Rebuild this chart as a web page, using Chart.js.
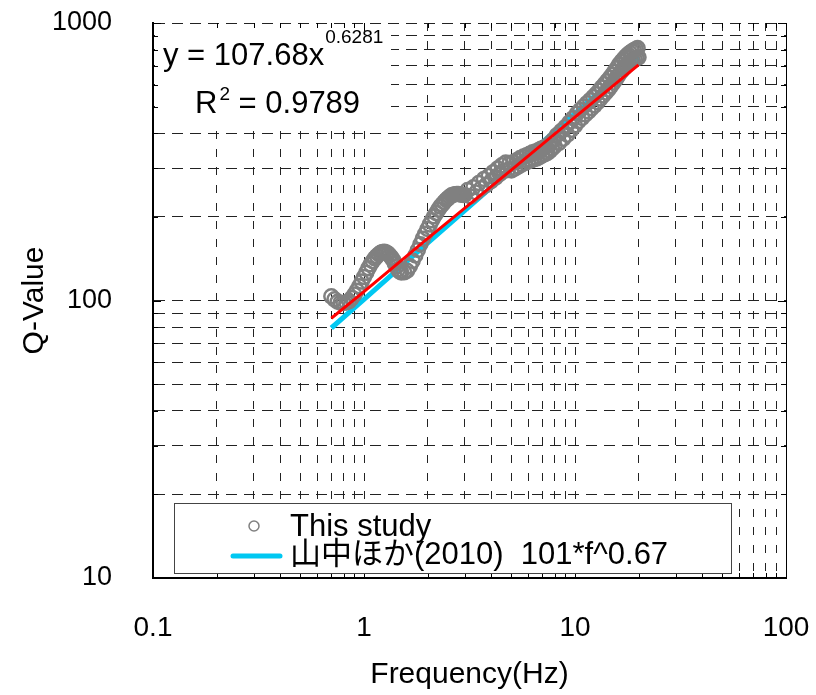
<!DOCTYPE html>
<html><head><meta charset="utf-8">
<script src="https://cdn.jsdelivr.net/npm/chart.js@4"></script>
<style>html,body{margin:0;padding:0;background:#fff}#wrap{width:816px;height:695px;position:relative}</style>
</head><body><div id="wrap"><canvas id="c" width="816" height="695"></canvas></div>
<script>
// ---- data ----
const studyFreq = [
  0.700,0.725,0.750,0.775,0.800,0.825,0.850,0.875,0.900,0.925,0.950,0.975,1.000,1.025,1.050,1.075,1.100,1.125,1.150,1.175,1.200,1.225,1.250,1.275,1.300,1.325,1.350,1.375,1.400,1.425,1.450,1.475,1.500,
  1.55,1.60,1.65,1.70,1.75,1.80,1.85,1.90,1.95,2.00,2.05,2.10,2.15,2.20,2.25,2.30,2.35,2.40,2.45,2.50,2.55,2.60,2.65,2.70,2.75,2.80,2.85,2.90,2.95,3.00,
  3.1,3.2,3.3,3.4,3.5,3.6,3.7,3.8,3.9,4.0,4.1,4.2,4.3,4.4,4.5,4.6,4.7,4.8,4.9,5.0,5.1,5.2,5.3,5.4,5.5,5.6,5.7,5.8,5.9,6.0,6.1,6.2,6.3,6.4,6.5,6.6,6.7,6.8,6.9,7.0,7.1,7.2,7.3,7.4,7.5,7.6,7.7,7.8,7.9,8.0,
  8.2,8.4,8.6,8.8,9.0,9.2,9.4,9.6,9.8,10.0,10.2,10.4,10.6,10.8,11.0,11.2,11.4,11.6,11.8,12.0,12.2,12.4,12.6,12.8,13.0,13.2,13.4,13.6,13.8,14.0,14.2,14.4,14.6,14.8,15.0,15.2,15.4,15.6,15.8,16.0,16.2,16.4,16.6,16.8,17.0,17.2,17.4,17.6,17.8,18.0,18.2,18.4,18.6,18.8,19.0,19.2,19.4,19.6,19.8,20.0];
const studyQ = [
  103.5,101.0,99.0,98.2,98.0,98.4,99.5,102.0,105.0,108.5,112.5,117.0,121.5,126.0,130.8,135.0,138.5,141.8,144.5,146.8,148.5,149.6,149.8,149.0,147.5,145.3,142.8,139.8,136.0,132.5,129.5,127.3,126.2,
  126.3,128.0,133.0,139.0,145.3,152.0,159.5,167.0,174.0,181.0,188.0,194.5,201.0,206.5,212.5,218.0,222.0,226.5,230.3,233.5,236.5,239.3,240.5,241.5,242.0,242.0,241.3,240.5,240.0,240.0,
  250,237,256,245,265,254,274,261,281,269,290,277,299,286,307,293,314,295,313,294,315,299,320,304,326,309,330,313,334,317,338,320,342,323,344,325,348,329,352,333,355,337,359,340,364,346,371,353,379,360,
  394,370,408,383,422,396,438,412,454,427,472,443,486,455,500,468,514,480,527,493,541,505,554,518,570,534,586,548,601,562,617,576,633,592,651,610,669,626,688,645,709,663,726,678,742,691,757,705,770,716,780,724,790,733,798,740,805,747,812,752];
const fitFreq = [0.70, 1, 2, 5, 10, 20];
const fitQ    = [86.3, 107.7, 167.0, 295.5, 458.3, 706.0];
const refFreq = [0.70, 1, 2, 5, 10, 20];
const refQ    = [79.6, 101.0, 160.9, 296.3, 472.0, 751.6];
const xTickValues = [0.1,0.2,0.3,0.4,0.5,0.6,0.7,0.8,0.9,1,2,3,4,5,6,7,8,9,10,20,30,40,50,60,70,80,90,100];
const yTickValues = [10,20,30,40,50,60,70,80,90,100,200,300,400,500,600,700,800,900,1000];
const xMajor = [0.1, 1, 10, 100];
const xLabels = ['0.1', '1', '10', '100'];
const yMajor = [10, 100, 1000];
const yLabels = ['10', '100', '1000'];
const legendLabels = ['This study', '山中ほか(2010)  101*f^0.67'];
const fitText = ['y = 107.68x', '0.6281', 'R', '2', ' = 0.9789'];

const FONT = "'Liberation Sans', Arial, 'Noto Sans CJK JP', sans-serif";

const overlay = {
  id: 'overlay',
  beforeDatasetsDraw(chart) {
    const ctx = chart.ctx, a = chart.chartArea;
    ctx.save();
    ctx.fillStyle = '#fff';
    ctx.fillRect(a.left + 2, a.top + 1, 236, 102);
    ctx.restore();
  },
  afterDraw(chart) {
    const ctx = chart.ctx, a = chart.chartArea;
    const xs = chart.scales.x, ys = chart.scales.y;
    ctx.save();
    ctx.strokeStyle = '#000'; ctx.lineWidth = 1;
    ctx.beginPath();
    yTickValues.forEach(v => {
      const p = Math.round(ys.getPixelForValue(v)) + 0.5;
      const L = yMajor.includes(v) ? 8 : 5;
      ctx.moveTo(a.left, p); ctx.lineTo(a.left + L, p);
      ctx.moveTo(a.right, p); ctx.lineTo(a.right - L, p);
    });
    xTickValues.forEach(v => {
      const p = Math.round(xs.getPixelForValue(v)) + 0.5;
      const L = xMajor.includes(v) ? 8 : 5;
      ctx.moveTo(p, a.bottom); ctx.lineTo(p, a.bottom - L);
      ctx.moveTo(p, a.top); ctx.lineTo(p, a.top + L);
    });
    ctx.stroke();
    ctx.fillStyle = '#000';
    ctx.textBaseline = 'alphabetic'; ctx.textAlign = 'left';
    ctx.font = '31px ' + FONT;
    let x0 = a.left + 10;
    ctx.fillText(fitText[0], x0, a.top + 42);
    let w = ctx.measureText(fitText[0]).width;
    ctx.font = '19px ' + FONT;
    ctx.fillText(fitText[1], x0 + w + 1, a.top + 20);
    ctx.font = '31px ' + FONT;
    let x1 = a.left + 42;
    ctx.fillText(fitText[2], x1, a.top + 90);
    w = ctx.measureText(fitText[2]).width;
    ctx.font = '19px ' + FONT;
    ctx.fillText(fitText[3], x1 + w + 2, a.top + 77);
    const w2 = ctx.measureText(fitText[3]).width;
    ctx.font = '31px ' + FONT;
    ctx.fillText(fitText[4], x1 + w + w2 + 2, a.top + 90);
    const bx = a.left + 21, bw = 557, bh = 70, by = a.bottom - 5 - bh;
    ctx.fillStyle = '#fff';
    ctx.fillRect(bx, by, bw, bh);
    ctx.strokeStyle = '#444'; ctx.lineWidth = 1;
    ctx.strokeRect(bx + 0.5, by + 0.5, bw, bh);
    ctx.strokeStyle = '#808080'; ctx.lineWidth = 1.5;
    ctx.beginPath(); ctx.arc(bx + 80, by + 23, 5, 0, Math.PI * 2); ctx.stroke();
    ctx.strokeStyle = '#00c8f2'; ctx.lineWidth = 5; ctx.lineCap = 'round';
    ctx.beginPath(); ctx.moveTo(bx + 59, by + 53); ctx.lineTo(bx + 106, by + 53); ctx.stroke();
    ctx.fillStyle = '#000'; ctx.textBaseline = 'middle';
    ctx.font = '31px ' + FONT;
    ctx.fillText(legendLabels[0], bx + 116, by + 24);
    ctx.fillText(legendLabels[1], bx + 116, by + 52);
    ctx.restore();
  }
};

function noPad(s) { s.paddingLeft = 0; s.paddingRight = 0; s.paddingTop = 0; s.paddingBottom = 0; }

new Chart(document.getElementById('c'), {
  type: 'scatter',
  data: {
    datasets: [
      { label: 'fit', data: fitFreq.map((f, i) => ({ x: f, y: fitQ[i] })), showLine: true,
        borderColor: '#ff0000', borderWidth: 3, pointRadius: 0, order: 0 },
      { label: legendLabels[0], data: studyFreq.map((f, i) => ({ x: f, y: studyQ[i] })), showLine: false,
        pointRadius: 7, borderWidth: 2.5, pointBorderColor: '#808080', borderColor: '#808080',
        pointBackgroundColor: 'rgba(0,0,0,0)', backgroundColor: 'rgba(0,0,0,0)', order: 1 },
      { label: legendLabels[1], data: refFreq.map((f, i) => ({ x: f, y: refQ[i] })), showLine: true,
        borderColor: '#00c8f2', borderWidth: 5, pointRadius: 0, order: 2 }
    ]
  },
  options: {
    responsive: false, animation: false, devicePixelRatio: 1,
    layout: { padding: { top: 23, right: 30, left: 0, bottom: 0 } },
    plugins: { legend: { display: false }, tooltip: { enabled: false } },
    scales: {
      x: {
        type: 'logarithmic', position: 'bottom', min: 0.1, max: 100,
        afterBuildTicks: s => { s.ticks = xTickValues.map(v => ({ value: v })); },
        afterFit: s => { s.height = 117; noPad(s); },
        ticks: { autoSkip: false, maxRotation: 0, padding: 33, color: '#000', font: { family: FONT, size: 28 },
          callback: v => { const i = xMajor.indexOf(v); return i >= 0 ? xLabels[i] : ''; } },
        grid: { color: '#222', lineWidth: 1, drawTicks: false },
        border: { display: true, color: '#000', width: 2, dash: [8, 10] },
        title: { display: true, text: 'Frequency(Hz)', color: '#000', font: { family: FONT, size: 30 }, padding: { top: 0, bottom: 2 } }
      },
      y: {
        type: 'logarithmic', position: 'left', min: 10, max: 1000,
        afterBuildTicks: s => { s.ticks = yTickValues.map(v => ({ value: v })); },
        afterFit: s => { s.width = 153; noPad(s); },
        ticks: { autoSkip: false, padding: 41, color: '#000', font: { family: FONT, size: 27 },
          callback: v => { const i = yMajor.indexOf(v); return i >= 0 ? yLabels[i] : ''; } },
        grid: { color: '#222', lineWidth: 1, drawTicks: false },
        border: { display: true, color: '#000', width: 2, dash: [11, 7] },
        title: { display: true, text: 'Q-Value', color: '#000', font: { family: FONT, size: 30 }, padding: { top: 17, bottom: 0 } }
      },
      y2: {
        type: 'logarithmic', position: 'right', min: 10, max: 1000,
        afterFit: s => { s.width = 0; noPad(s); },
        ticks: { display: false }, grid: { display: false, drawTicks: false },
        border: { display: true, color: '#000', width: 1 }
      }
    }
  },
  plugins: [overlay]
});
</script></body></html>
